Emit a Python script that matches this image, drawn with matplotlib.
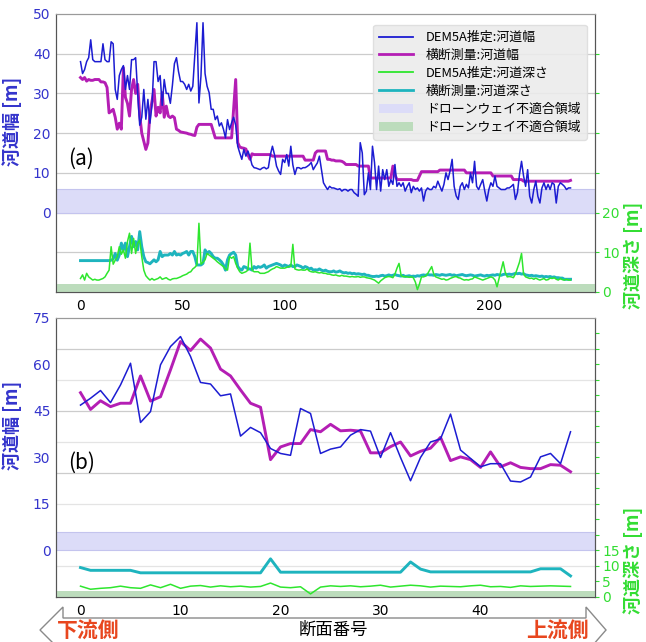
import numpy as np
import matplotlib
matplotlib.use("Agg")
import matplotlib.pyplot as plt
from matplotlib.patches import Polygon, Patch
from matplotlib.lines import Line2D

plt.rcParams["font.family"] = ["DejaVu Sans", "Noto Sans CJK JP"]
JP = ["Noto Sans CJK JP", "DejaVu Sans"]

# ---------------- panel (a): full reach, 241 cross sections ----------------
dem_width_a = [
    38, 35, 36, 38, 39, 43.5, 38.5, 38, 38, 38,
    38, 42.5, 38.5, 38, 38, 43, 42.5, 31, 28.5, 34.5,
    36, 37, 31, 34.5, 31, 38.5, 38.5, 39, 30, 22,
    24, 31, 23.5, 28.5, 22.5, 27, 38, 38, 33, 34.5,
    27, 33.5, 30, 30, 27.5, 32, 37.5, 39, 35.5, 33,
    33, 32.3, 31, 32.3, 30.6, 31.8, 40, 47.8, 27.6, 34.4,
    47.8, 35, 31.8, 30.2, 26, 26, 23.4, 24.3, 21.8, 22.6,
    21, 18.8, 23.4, 20.9, 22.6, 24, 22, 16.7, 15, 13.4,
    15.9, 14.2, 15.5, 14, 12, 11.3, 11.2, 11, 10.8, 11.2,
    11.4, 11, 11.3, 14.6, 16.7, 14.6, 11.7, 10.5, 9.6, 13.4,
    12.6, 14.6, 11.7, 16.7, 12, 9.6, 11.3, 11.3, 11, 11.3,
    11.3, 11.6, 12, 12.6, 10.8, 11.7, 12.5, 14.2, 10.8, 7.5,
    6.6, 5.8, 6.6, 6.2, 6.2, 6, 5.8, 6, 5.4, 5.8,
    5.8, 5.4, 5.8, 5.8, 5, 4.6, 4.1, 17.6, 15, 4.5,
    5.4, 10, 5.8, 16.7, 12.6, 5.8, 11.7, 5.4, 10.8, 8.3,
    10.8, 6.6, 8.3, 7.1, 12.1, 6.6, 7.5, 6.6, 7.5, 5.4,
    6.6, 7.5, 5, 6.6, 5.8, 6.2, 5.4, 6.2, 2.9, 5.4,
    6.2, 5.8, 5.8, 6.6, 6.2, 7.9, 6.6, 5.4, 7.1, 10,
    8.3, 10.5, 13.4, 6.6, 4.2, 3.3, 6.6, 7.5, 5.8, 7.1,
    6.2, 10, 7.5, 12.9, 6.6, 5.8, 7.1, 8.3, 5.4, 2.9,
    5.8, 7.5, 6.6, 9.2, 6.6, 6.2, 5.8, 5.8, 5.8, 6.2,
    6.2, 6.6, 7.1, 3.3, 5, 9.6, 12.9, 9.2, 6.6, 10.8,
    4.1, 2.4, 5.8, 7.9, 4.1, 2.4, 6.2, 7.5, 5.8, 7.1,
    5.8, 7.5, 7.1, 2.4, 6.6, 7.5, 7.1, 6.6, 5.8, 6.2,
    6.2,
]
survey_width_a = [
    34, 33.5, 34, 33.1, 33.5, 33.3, 33.3, 33.5, 33.5, 33.5,
    32.9, 32.9, 32.7, 31.5, 25.1, 25.5, 26, 24, 21, 22.5,
    21, 36.5, 29, 27.5, 24.3, 31, 33.5, 30, 32.3, 24.5,
    20, 18, 15.9, 17.5, 25, 28, 31, 24.3, 26.5, 25.1,
    30.2, 24, 26.8, 24.3, 23.9, 24.3, 23.9, 21, 20.7, 20.3,
    20.2, 20.1, 20, 19.8, 19.7, 19.5, 19.4, 21.5, 22.2, 22.2,
    22.2, 22.2, 22.2, 22.2, 22.2, 20.5, 18.8, 18.8, 18.8, 18.8,
    18.8, 18.8, 18.8, 18.8, 18.8, 26, 33.5, 17.6, 16.5, 16.3,
    16.2, 16, 14.5, 13.4, 14.8, 14.6, 14.6, 14.6, 14.6, 14.6,
    14.6, 14.6, 14.6, 14.6, 14.2, 14.2, 14.2, 14.2, 14.2, 14.2,
    14.2, 14.2, 14.2, 14.2, 14.2, 14.2, 14.2, 14.2, 14.2, 14.2,
    13.2, 13.2, 13.2, 13.2, 13.2, 15, 15.5, 15.5, 15.5, 15.5,
    15.5, 13.4, 13.4, 13.2, 13.2, 13, 13, 13, 12.9, 12.6,
    12.1, 12.1, 12.1, 12.1, 12.1, 12.1, 11.7, 11.7, 11.7, 11.7,
    11.7, 11.7, 8.7, 8.7, 8.7, 8.7, 8.7, 8.7, 8.7, 8.7,
    8.7, 8.7, 8.7, 11.7, 9.5, 8.3, 8.3, 8.3, 8.3, 8.3,
    8.3, 8.3, 8.3, 8.1, 8.1, 8.1, 9.2, 10.3, 10.3, 10.3,
    10.3, 10.3, 10.3, 10.3, 10.3, 10.3, 10.7, 10.7, 10.7, 10.7,
    10.7, 10.7, 10.7, 10.7, 10.7, 10.7, 10.7, 10.7, 10.7, 10,
    10, 10, 10, 10, 10, 10, 10, 10, 10, 10,
    10, 10, 9.2, 9.2, 9.2, 9.2, 9.2, 9.2, 9.2, 9.2,
    9.2, 9.2, 8.3, 8.3, 8.3, 8.3, 8.3, 7.9, 7.9, 7.9,
    7.9, 7.9, 7.9, 7.9, 7.9, 7.9, 7.9, 7.9, 7.9, 7.9,
    7.9, 7.9, 7.9, 7.9, 7.9, 7.9, 7.9, 7.9, 7.9, 7.9,
    8.1,
]
dem_depth_a = [
    3.4, 4.3, 3.0, 4.7, 3.8, 3.4, 3.0, 3.2, 3.0, 3.0,
    3.2, 3.4, 3.8, 4.7, 5.5, 11.4, 7.0, 8.0, 8.9, 11.4,
    9.5, 10.6, 8.5, 12.7, 14.8, 9.7, 13.5, 9.7, 12.3, 13.1,
    8.9, 5.5, 4.1, 3.5, 3.0, 3.4, 3.0, 3.2, 3.4, 3.8,
    3.2, 3.4, 3.6, 3.2, 3.0, 3.3, 3.4, 3.4, 3.6, 3.8,
    4.1, 4.3, 4.5, 4.9, 5.1, 5.8, 6.2, 6.8, 17.3, 7.0,
    7.5, 8.1, 9.7, 9.3, 8.9, 8.5, 8.1, 7.6, 7.2, 6.8,
    6.4, 5.8, 5.5, 8.9, 8.5, 8.9, 7.2, 6.0, 5.1, 4.7,
    4.9, 5.1, 5.5, 12.3, 5.5, 5.1, 5.1, 5.1, 4.7, 4.7,
    4.7, 4.9, 5.1, 5.5, 5.8, 6.0, 6.4, 6.2, 6.0, 6.0,
    6.0, 6.2, 6.4, 6.4, 12.0, 5.8, 5.6, 5.5, 5.6, 5.5,
    5.5, 5.8, 5.3, 5.1, 5.0, 5.1, 4.9, 4.8, 4.9, 4.7,
    4.7, 4.5, 4.5, 4.3, 4.2, 4.3, 4.1, 4.0, 4.2, 4.0,
    4.0, 3.9, 3.8, 3.9, 3.8, 3.8, 3.9, 3.7, 3.8, 3.8,
    3.6, 3.5, 3.4, 3.2, 3.0, 2.6, 2.2, 2.8, 3.2, 3.6,
    3.8, 3.9, 3.8, 3.6, 4.5, 6.0, 7.2, 4.2, 3.8, 3.9,
    3.8, 3.7, 3.8, 3.6, 2.5, 0.6, 2.0, 3.8, 3.8, 4.0,
    4.6, 5.5, 6.4, 4.5, 3.8, 3.6, 3.4, 3.2, 3.3, 3.0,
    3.1, 3.4, 3.6, 3.8, 3.9, 3.6, 3.5, 3.2, 3.0, 3.1,
    3.0, 3.2, 3.3, 3.8, 3.6, 3.4, 3.2, 3.0, 3.2, 3.4,
    3.6, 3.8, 3.6, 3.0, 1.3, 3.4, 5.5, 7.6, 5.0, 3.8,
    3.9, 3.8, 3.6, 4.5, 6.0, 7.5, 9.7, 4.5, 3.8, 3.6,
    3.4, 3.5, 3.2, 3.5, 3.2, 3.0, 3.2, 3.4, 3.0, 3.1,
    3.5, 3.4, 3.6, 3.2, 3.0, 3.4, 3.1, 3.0, 3.2, 3.0,
    3.0,
]
survey_depth_a = [
    7.9, 7.9, 7.9, 7.9, 7.9, 7.9, 7.9, 7.9, 7.9, 7.9,
    7.9, 7.9, 7.9, 7.9, 7.9, 8.0, 8.3, 9.7, 8.0, 9.3,
    12.3, 10.6, 12.3, 8.9, 11.4, 14.0, 11.4, 12.7, 10.6, 15.2,
    11.4, 8.9, 7.6, 7.4, 7.1, 7.6, 8.1, 7.6, 8.1, 10.2,
    8.9, 9.3, 9.3, 9.3, 9.7, 9.3, 10.2, 9.3, 9.5, 9.3,
    9.7, 9.9, 10.2, 9.3, 10.2, 10.2, 8.9, 6.8, 6.8, 6.8,
    7.2, 10.6, 9.7, 10.2, 9.7, 8.9, 8.5, 8.5, 8.1, 7.6,
    6.8, 5.5, 8.1, 9.3, 9.7, 10.0, 9.3, 6.4, 5.8, 5.5,
    6.4, 6.2, 5.8, 5.8, 5.5, 6.4, 6.0, 6.4, 6.2, 6.4,
    6.8, 6.0, 6.4, 6.6, 6.8, 7.0, 7.2, 7.0, 6.8, 6.4,
    6.8, 6.6, 6.4, 6.8, 6.4, 6.4, 6.8, 6.6, 6.4, 6.0,
    6.4, 6.2, 5.8, 6.0, 5.5, 5.6, 5.5, 5.8, 5.5, 5.3,
    5.5, 5.2, 5.1, 5.1, 5.3, 5.0, 5.1, 5.3, 5.0, 4.8,
    4.9, 4.7, 4.8, 4.6, 4.7, 4.5, 4.6, 4.5, 4.4, 4.5,
    4.2, 4.2, 4.0, 3.9, 3.9, 4.0, 3.9, 4.1, 4.2, 4.0,
    4.1, 4.3, 4.1, 4.2, 4.4, 4.2, 4.1, 4.0, 4.2, 3.9,
    4.0, 4.1, 3.9, 4.0, 3.9, 4.1, 4.0, 4.2, 4.3, 4.2,
    4.4, 4.3, 4.3, 4.2, 4.4, 4.3, 4.2, 4.4, 4.3, 4.2,
    4.3, 4.4, 4.2, 4.3, 4.1, 4.2, 4.3, 4.4, 4.2, 4.1,
    4.2, 4.3, 4.2, 4.0, 4.1, 4.2, 4.3, 4.1, 4.0, 4.2,
    4.1, 4.2, 4.3, 4.2, 4.4, 4.3, 4.2, 4.4, 4.5, 4.4,
    4.5, 4.4, 4.5, 4.7, 4.6, 4.7, 4.5, 4.6, 4.3, 4.2,
    4.1, 4.2, 4.0, 4.1, 4.0, 3.9, 4.0, 3.8, 3.9, 3.8,
    3.9, 3.7, 3.8, 3.6, 3.6, 3.5, 3.5, 3.2, 3.2, 3.2,
    3.2,
]

# ---------------- panel (b): lower reach, 50 cross sections ----------------
dem_width_b = [
    46.9, 49.1, 51.6, 47.7, 53.4, 60.4, 41.3, 44.8, 59.9, 65.8,
    69.0, 62.6, 54.2, 53.7, 49.9, 50.5, 36.9, 39.7, 38.0, 32.9,
    31.3, 30.7, 45.8, 44.2, 31.3, 32.7, 33.4, 37.2, 39.0, 38.5,
    30.0, 38.0, 30.0, 22.5, 30.0, 35.0, 36.0, 44.0, 32.4, 29.7,
    27.0, 28.0, 28.0, 22.4, 22.1, 23.7, 30.2, 31.3, 28.0, 38.3,
]
survey_width_b = [
    50.9, 45.5, 48.3, 46.4, 47.5, 47.5, 56.3, 48.2, 49.6, 58.3,
    67.4, 64.5, 68.2, 65.3, 58.5, 56.3, 51.8, 47.5, 46.2, 29.3,
    33.4, 34.5, 34.5, 39.0, 38.3, 40.7, 38.6, 38.8, 38.5, 31.5,
    31.5, 33.5, 35.0, 30.5, 32.0, 33.0, 36.5, 29.0, 30.2, 29.3,
    26.8, 31.8, 27.0, 28.3, 26.8, 26.4, 26.4, 27.7, 27.5, 25.4,
]
dem_depth_b = [
    3.5, 2.5, 2.8, 3.0, 3.5, 3.0, 2.8, 3.9, 3.0, 4.1,
    2.8, 3.5, 3.7, 3.2, 3.6, 3.3, 3.5, 3.2, 3.4, 4.5,
    3.2, 3.0, 3.3, 1.0, 3.2, 3.6, 3.4, 3.6, 3.3, 3.5,
    3.8, 3.2, 3.5, 3.8, 3.6, 3.2, 3.5, 3.4, 3.3, 3.6,
    3.8, 3.3, 3.4, 3.1, 3.6, 3.4, 3.5, 3.6, 3.5, 3.4,
]
survey_depth_b = [
    9.5, 8.6, 8.6, 8.6, 8.6, 8.6, 7.8, 7.8, 7.8, 7.8,
    7.8, 7.8, 7.8, 7.8, 7.8, 7.8, 7.8, 7.8, 7.8, 12.3,
    8.0, 8.0, 8.0, 8.0, 8.0, 8.0, 8.0, 8.0, 8.0, 8.0,
    8.0, 8.0, 8.0, 11.3, 9.0, 8.1, 8.1, 8.1, 8.1, 8.1,
    8.1, 8.1, 8.1, 8.1, 8.1, 8.1, 9.1, 9.1, 9.1, 6.8,
]

labels = ["DEM5A推定:河道幅", "横断測量:河道幅", "DEM5A推定:河道深さ",
          "横断測量:河道深さ", "ドローンウェイ不適合領域", "ドローンウェイ不適合領域"]
unsuitable_width = (0, 6)     # band on the width axis
unsuitable_depth = (0, 2)     # band on the depth axis

C_BLUE = "#1c1cd2"
C_MAG = "#b41eb4"
C_GREEN = "#2ee62e"
C_CYAN = "#1eb4be"
C_LBL_L = "#3434cc"
C_LBL_R = "#33dd33"

fig = plt.figure(figsize=(6.46, 6.42), dpi=100)
axA = fig.add_axes([0.0867, 0.5452, 0.8344, 0.4330])
axB = fig.add_axes([0.0867, 0.0701, 0.8344, 0.4346])


def draw_panel(ax, dem_w, surv_w, dem_d, surv_d, wlim, wticks, dmax,
               dticks, dlabeled, grid_dark, grid_light, tag, legend=False):
    x = np.arange(len(dem_w))
    ax.set_facecolor("white")
    off = -wlim[0]  # depth d sits at width d - off
    for g in grid_light:
        ax.axhline(g - off, color="#e4e4e4", lw=0.9, zorder=0)
    for g in grid_dark:
        ax.axhline(g - off, color="#cccccc", lw=0.9, zorder=0)
    ax.axhspan(*unsuitable_width, facecolor="#dcdcf8", edgecolor="#c4c4ee",
               lw=0.8, zorder=0.5)
    ax.plot(x, dem_w, color=C_BLUE, lw=1.1, zorder=3)
    ax.plot(x, surv_w, color=C_MAG, lw=2.1, zorder=2)
    ax.set_ylim(*wlim)
    ax.set_yticks(wticks)
    ax.tick_params(axis="y", colors=C_LBL_L, labelsize=10, length=0, pad=4)
    ax.tick_params(axis="x", colors="black", labelsize=10, length=0, pad=5)
    n = len(dem_w) - 1
    ax.set_xlim(-0.05 * n, 1.05 * n)
    ax.set_ylabel("河道幅 [m]", color=C_LBL_L, fontsize=13, family=JP,
                  fontweight="bold")
    ax.yaxis.set_label_coords(-0.063, 0.615)
    ax.text(0.022, 0.48, tag, transform=ax.transAxes, fontsize=15,
            family=JP, va="center", ha="left")
    for s in ("left", "bottom", "right"):
        ax.spines[s].set_color("#555555")
    ax.spines["top"].set_color("#9a9a9a")

    tw = ax.twinx()
    tw.axhspan(*unsuitable_depth, facecolor="#bcdcbc", edgecolor="none", zorder=0)
    tw.plot(x, dem_d, color=C_GREEN, lw=1.1, zorder=3)
    tw.plot(x, surv_d, color=C_CYAN, lw=2.1, zorder=2)
    tw.set_ylim(0, dmax)
    tw.set_yticks(dticks)
    tw.set_yticklabels([str(t) if t in dlabeled else "" for t in dticks])
    tw.tick_params(axis="y", colors=C_LBL_R, labelsize=10, length=3,
                   width=0.8, pad=2)
    for t in tw.yaxis.get_ticklines():
        t.set_color("#555555")
    tw.set_ylabel("河道深さ [m]", color=C_LBL_R, fontsize=13, family=JP,
                  fontweight="bold", rotation=90)
    tw.yaxis.set_label_coords(1.052, 0.13)
    for s in ("left", "bottom", "right"):
        tw.spines[s].set_color("#555555")
    tw.spines["top"].set_color("#9a9a9a")

    if legend:
        handles = [
            Line2D([], [], color=C_BLUE, lw=1.3),
            Line2D([], [], color=C_MAG, lw=2.0),
            Line2D([], [], color=C_GREEN, lw=1.3),
            Line2D([], [], color=C_CYAN, lw=2.0),
            Patch(facecolor="#dcdcf8", edgecolor="none"),
            Patch(facecolor="#bcdcbc", edgecolor="none"),
        ]
        leg = tw.legend(handles, labels, loc="upper right",
                        bbox_to_anchor=(0.997, 0.985),
                        prop={"family": JP, "size": 9.3},
                        frameon=True, fancybox=True, framealpha=0.9,
                        facecolor="#ebebeb", edgecolor="#dddddd",
                        handlelength=2.6, labelspacing=0.38,
                        borderpad=0.5, handletextpad=1.0)
        leg.set_zorder(10)
    return tw


draw_panel(axA, dem_width_a, survey_width_a, dem_depth_a, survey_depth_a,
           (-20, 50), [0, 10, 20, 30, 40, 50], 70,
           list(range(0, 70, 10)), {0, 10, 20},
           grid_dark=[10, 20, 30, 40, 50, 60], grid_light=[], tag="(a)",
           legend=True)
draw_panel(axB, dem_width_b, survey_width_b, dem_depth_b, survey_depth_b,
           (-15, 75), [0, 15, 30, 45, 60, 75], 90,
           list(range(0, 90, 5)), {0, 5, 10, 15},
           grid_dark=[20, 40, 60, 80], grid_light=[10, 30, 50, 70], tag="(b)")
axA.set_xticks([0, 50, 100, 150, 200])
axB.set_xticks([0, 10, 20, 30, 40])

# direction arrow under the lower panel
W, H = 646.0, 642.0
pts_px = [(40, 630), (63, 607), (63, 618), (586, 618), (586, 607),
          (606, 630), (586, 653), (586, 644), (63, 644), (63, 653)]
arrow = Polygon([(px / W, 1 - py / H) for px, py in pts_px], closed=True,
                transform=fig.transFigure, facecolor="white",
                edgecolor="#8a8a8a", lw=1.0, zorder=0)
fig.patches.append(arrow)
fig.text(88 / W, 1 - 630 / H, "下流側", color="#e8461e", fontsize=15,
         fontweight="bold", family=JP, ha="center", va="center")
fig.text(557 / W, 1 - 630 / H, "上流側", color="#e8461e", fontsize=15,
         fontweight="bold", family=JP, ha="center", va="center")
fig.text(333 / W, 1 - 630 / H, "断面番号", color="black", fontsize=12.5,
         family=JP, ha="center", va="center")

fig.savefig("out.png", dpi=100)
